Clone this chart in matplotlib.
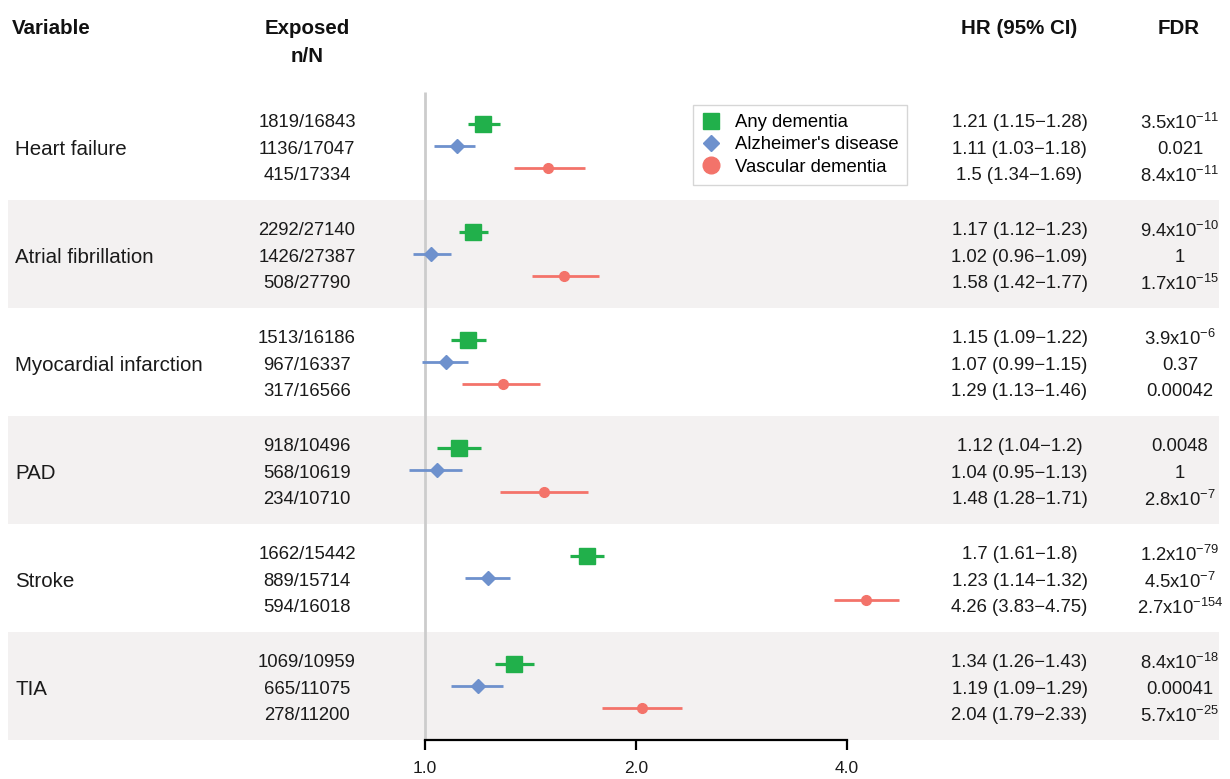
import matplotlib
matplotlib.use("Agg")
import matplotlib.pyplot as plt
from matplotlib.lines import Line2D
import matplotlib.transforms as mtransforms

plt.rcParams['font.family'] = ['Liberation Sans', 'DejaVu Sans']
plt.rcParams['mathtext.fontset'] = 'custom'
plt.rcParams['mathtext.rm'] = 'Liberation Sans'
plt.rcParams['mathtext.it'] = 'Liberation Sans:italic'
plt.rcParams['mathtext.bf'] = 'Liberation Sans:bold'

# ---------------- data ----------------
variables = ["Heart failure", "Atrial fibrillation", "Myocardial infarction",
             "PAD", "Stroke", "TIA"]
outcomes = ["Any dementia", "Alzheimer's disease", "Vascular dementia"]

exposed_any = ["1819/16843", "2292/27140", "1513/16186", "918/10496", "1662/15442", "1069/10959"]
exposed_ad = ["1136/17047", "1426/27387", "967/16337", "568/10619", "889/15714", "665/11075"]
exposed_vd = ["415/17334", "508/27790", "317/16566", "234/10710", "594/16018", "278/11200"]

hr_any = [1.21, 1.17, 1.15, 1.12, 1.70, 1.34]
lo_any = [1.15, 1.12, 1.09, 1.04, 1.61, 1.26]
hi_any = [1.28, 1.23, 1.22, 1.20, 1.80, 1.43]

hr_ad = [1.11, 1.02, 1.07, 1.04, 1.23, 1.19]
lo_ad = [1.03, 0.96, 0.99, 0.95, 1.14, 1.09]
hi_ad = [1.18, 1.09, 1.15, 1.13, 1.32, 1.29]

hr_vd = [1.50, 1.58, 1.29, 1.48, 4.26, 2.04]
lo_vd = [1.34, 1.42, 1.13, 1.28, 3.83, 1.79]
hi_vd = [1.69, 1.77, 1.46, 1.71, 4.75, 2.33]

fdr_any = [r"3.5x10$^{\mathregular{-11}}$", r"9.4x10$^{\mathregular{-10}}$", r"3.9x10$^{\mathregular{-6}}$",
           "0.0048", r"1.2x10$^{\mathregular{-79}}$", r"8.4x10$^{\mathregular{-18}}$"]
fdr_ad = ["0.021", "1", "0.37", "1", r"4.5x10$^{\mathregular{-7}}$", "0.00041"]
fdr_vd = [r"8.4x10$^{\mathregular{-11}}$", r"1.7x10$^{\mathregular{-15}}$", "0.00042",
          r"2.8x10$^{\mathregular{-7}}$", r"2.7x10$^{\mathregular{-154}}$", r"5.7x10$^{\mathregular{-25}}$"]

xticks = [1.0, 2.0, 4.0]
xticklabels = ["1.0", "2.0", "4.0"]

# ---------------- styling ----------------
colors = ["#21B04B", "#6E91CD", "#F3736A"]
markers = ["s", "D", "o"]
msizes = [11.5, 7.2, 7.0]
lwidths = [2.3, 2.0, 2.0]
band_color = "#F3F1F1"

W, H = 1230, 779
fig = plt.figure(figsize=(W / 100, H / 100), dpi=100)
ax = fig.add_axes([0, 0, 1, 1])
ax.set_xscale('log', base=2)
# map: x=1 at px 425, x=4 at px 847 (211 px per doubling)
ppd = 211.0
ax.set_xlim(2 ** (-425 / ppd), 2 ** ((W - 425) / ppd))
# y: group index units, 108 px per group, group 0 centre at px 146
gpx = 108.0
ax.set_ylim((H - 146) / gpx, -146 / gpx)

n = len(variables)
trans = mtransforms.blended_transform_factory(ax.transAxes, ax.transData)

# bands
for i in range(n):
    if i % 2 == 1:
        ax.axhspan(i - 0.5, i + 0.5, xmin=8 / W, xmax=1219 / W, color=band_color, lw=0, zorder=0)

# reference line
ax.plot([1, 1], [-0.5, n - 0.5], color="#CCCCCC", lw=2, zorder=1, solid_capstyle='butt')

# marks
moff = 0.2
series = [(hr_any, lo_any, hi_any), (hr_ad, lo_ad, hi_ad), (hr_vd, lo_vd, hi_vd)]
for k, (hr, lo, hi) in enumerate(series):
    ys = [i + (k - 1) * moff for i in range(n)]
    for i in range(n):
        ax.plot([lo[i], hi[i]], [ys[i], ys[i]], color=colors[k], lw=lwidths[k],
                solid_capstyle='butt', zorder=2)
    ax.plot(hr, ys, linestyle='none', marker=markers[k], ms=msizes[k],
            color=colors[k], mec=colors[k], zorder=3)

# text columns
toff = 0.245
tshift = 0.032
fs_row = 13.3
exposed = [exposed_any, exposed_ad, exposed_vd]
fdrs = [fdr_any, fdr_ad, fdr_vd]
for i in range(n):
    ax.text(15 / W, i + tshift, variables[i], transform=trans, ha='left', va='center',
            fontsize=14.8, color='#1a1a1a')
    for k, (hr, lo, hi) in enumerate(series):
        y = i + (k - 1) * toff + tshift
        ax.text(307 / W, y, exposed[k][i], transform=trans, ha='center', va='center',
                fontsize=fs_row, color='#1a1a1a')
        ax.text(1019.5 / W, y, f"{hr[i]:g} ({lo[i]:g}\u2212{hi[i]:g})", transform=trans,
                ha='center', va='center', fontsize=fs_row, color='#1a1a1a')
        ax.text(1180 / W, y, fdrs[k][i], transform=trans, ha='center', va='center',
                fontsize=fs_row, color='#1a1a1a')

# headers
yh1 = (28 - 146) / gpx
yh2 = (56 - 146) / gpx
hk = dict(transform=trans, va='center', fontsize=14.8, fontweight='bold', color='#111111')
ax.text(12 / W, yh1, "Variable", ha='left', **hk)
ax.text(307 / W, yh1, "Exposed", ha='center', **hk)
ax.text(307 / W, yh2, "n/N", ha='center', **hk)
ax.text(1019 / W, yh1, "HR (95% CI)", ha='center', **hk)
ax.text(1179 / W, yh1, "FDR", ha='center', **hk)

# axis
for s in ['top', 'right', 'left']:
    ax.spines[s].set_visible(False)
ax.spines['bottom'].set_position(('data', n - 0.5))
ax.spines['bottom'].set_bounds(1, 4)
ax.spines['bottom'].set_linewidth(1.6)
ax.xaxis.set_minor_locator(matplotlib.ticker.NullLocator())
ax.set_xticks(xticks)
ax.set_xticklabels(xticklabels, fontsize=12.5, color='#1a1a1a')
ax.tick_params(axis='x', which='major', direction='out', length=7, width=1.6, pad=8,
               color='black')
ax.set_yticks([])

# legend
handles = [Line2D([], [], linestyle='none', marker=markers[k], color=colors[k],
                  ms=[11.5, 8.5, 12][k]) for k in range(3)]
leg = ax.legend(handles, outcomes, loc='upper left',
                bbox_to_anchor=(693 / W, 1 - 105 / H), bbox_transform=fig.transFigure,
                fontsize=13.3, frameon=True, fancybox=False, edgecolor='#CCCCCC',
                borderpad=0.5, labelspacing=0.28, handlelength=1.0, handletextpad=0.75,
                borderaxespad=0)
leg.get_frame().set_linewidth(1.0)

fig.savefig("out.png", dpi=100, facecolor='white')
